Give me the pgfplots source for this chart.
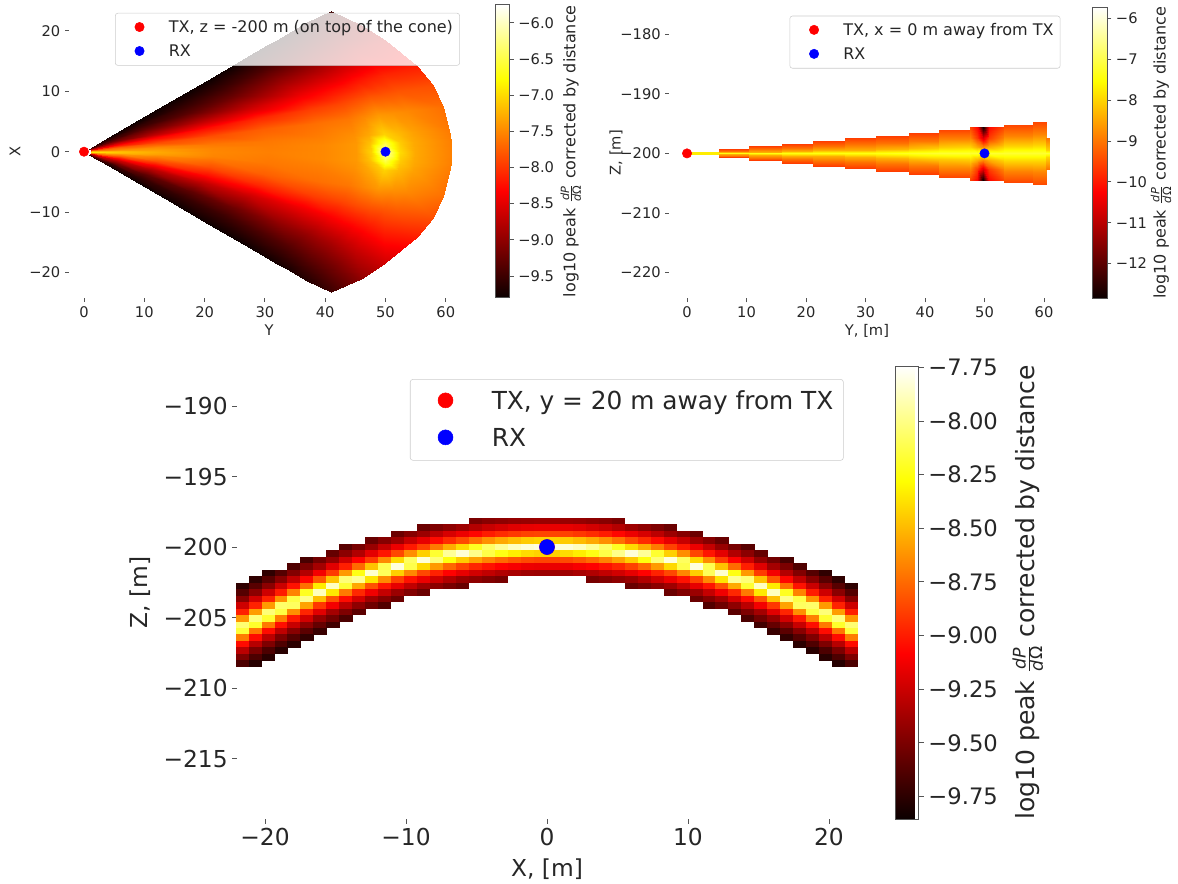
\documentclass[border=0pt]{standalone}
\usepackage{pgfplots}
\pgfplotsset{compat=1.18}
\usepackage{fontspec}
\setmainfont{DejaVu Sans}
\definecolor{txt}{HTML}{262626}
\definecolor{tk}{HTML}{555555}
\newcommand{\dPdO}[1]{$\frac{\mbox{\fontsize{#1}{#1}\selectfont\itshape dP}}{\mbox{\fontsize{#1}{#1}\selectfont\itshape d\textup{Ω}}}$}
\pgfdeclareplotmark{cell}{\pgfpathrectangle{\pgfqpoint{-4.95pt}{-2.5pt}}{\pgfqpoint{9.9pt}{5pt}}\pgfusepathqfill}
\pgfplotsset{
 colormap={hotm}{rgb(0pt)=(0.0416,0,0); rgb(365pt)=(1,0,0); rgb(746pt)=(1,1,0); rgb(1000pt)=(1,1,1)},
 colormap name=hotm,
 base/.style={scale only axis, axis line style={draw=none}, xtick pos=bottom, ytick pos=left, tick align=outside,
   tick style={color=tk,line width=0.6pt}, major tick length=3pt, clip=true,
   legend cell align=left},
 smalllegend/.style={legend style={anchor=north west,fill opacity=0.8,draw opacity=1,text opacity=1,draw=black!20,rounded corners=2pt,
    font=\fontsize{12}{14}\selectfont,text=txt,inner xsep=5pt,inner ysep=1.6pt,row sep=0pt,
    nodes={inner sep=0pt,text height=13pt,text depth=5pt}},
    legend image code/.code={\path (-13pt,0) (21.75pt,0); \draw[##1,mark options={fill opacity=1,draw opacity=1}] plot coordinates {(0,0.2pt)};}},
 biglegend/.style={legend style={anchor=north west,fill opacity=0.8,draw opacity=1,text opacity=1,draw=black!20,rounded corners=2pt,
    font=\fontsize{18.6}{22}\selectfont,text=txt,inner xsep=7.5pt,inner ysep=2.6pt,row sep=0pt,
    nodes={inner sep=0pt,text height=20pt,text depth=7.75pt}},
    legend image code/.code={\path (-18.75pt,0) (34.5pt,0); \draw[##1,mark options={fill opacity=1,draw opacity=1}] plot coordinates {(0,0.75pt)};}},
}
\begin{document}
\begin{tikzpicture}
\path[use as bounding box] (0,0) rectangle (883.5pt,662.25pt);
% ---------------- top left
\begin{axis}[base, smalllegend, at={(51.75pt,438.98pt)}, anchor=south west, width=300pt, height=219.75pt,
  xmin=-2.49, xmax=63.85, ymin=-24.17, ymax=24.34,
  xtick={0,10,20,30,40,50,60}, xticklabels={0,10,20,30,40,50,60}, ytick={-20,-10,0,10,20}, yticklabels={−20,−10,0,10,20},
  ticklabel style={font=\fontsize{11}{13}\selectfont,text=txt},
  xlabel={Y}, ylabel={X},
  every axis x label/.style={at={(axis description cs:0.5,-0.11)},anchor=center,font=\fontsize{11}{13}\selectfont,text=txt},
  every axis y label/.style={at={(axis description cs:-0.135,0.5)},rotate=90,anchor=center,font=\fontsize{11}{13}\selectfont,text=txt},
  point meta min=-9.80, point meta max=-5.75,
  colorbar,
  colorbar style={at={(parent axis.north east)},anchor=north west,xshift=11.1pt,scale only axis,width=10.9pt,height=219.75pt,
    ytick={-9.5,-9,-8.5,-8,-7.5,-7,-6.5,-6}, yticklabels={−9.5,−9.0,−8.5,−8.0,−7.5,−7.0,−6.5,−6.0},
    yticklabel pos=right, ytick pos=right, tick align=outside, major tick length=3pt,
    tick style={color=tk,line width=0.6pt}, axis line style={draw=tk,line width=0.6pt},
    ticklabel style={font=\fontsize{11}{13}\selectfont,text=txt},
    ylabel={log10 peak \dPdO{8.5} corrected by distance},
    every axis y label/.style={at={(axis description cs:5.2,0.5)},rotate=90,anchor=center,font=\fontsize{12}{14}\selectfont,text=txt}},
  legend style={at={(0.115,0.972)}},
]
\addplot[surf,shader=interp,forget plot,mesh/rows=12,mesh/cols=17,mesh/ordering=y varies,point meta=\thisrow{v}] table[x=x,y=y]{
x y v
0.82 -0.48 -9.5
4.1 -2.38 -9.75
8.2 -4.75 -9.78
14.35 -8.32 -9.78
20.5 -11.89 -9.78
26.65 -15.45 -9.78
30.34 -17.6 -9.75
31.98 -18.55 -9.74
33.62 -19.5 -9.72
35.26 -20.45 -9.68
36.9 -21.4 -9.65
41 -23.3 -9.5
0.92 -0.42 -9.2
4.6 -2.1 -9.5
9.2 -4.2 -9.55
16.1 -7.35 -9.55
23 -10.5 -9.5
29.9 -13.65 -9.4
34.04 -15.54 -9.35
35.88 -16.38 -9.3
37.72 -17.22 -9.25
39.56 -18.06 -9.2
41.4 -18.9 -9.15
46 -21 -9.0
1 -0.37 -8.9
5 -1.85 -9.2
10 -3.7 -9.3
17.5 -6.48 -9.3
25 -9.25 -9.2
32.5 -12.03 -9.0
37 -13.69 -8.95
39 -14.43 -8.9
41 -15.17 -8.85
43 -15.91 -8.78
45 -16.65 -8.7
50 -18.5 -8.6
1.1 -0.28 -8.4
5.52 -1.42 -8.65
11.04 -2.84 -8.75
19.32 -4.97 -8.7
27.6 -7.1 -8.6
35.88 -9.23 -8.4
40.85 -10.51 -8.3
43.06 -11.08 -8.25
45.26 -11.64 -8.2
47.47 -12.21 -8.15
49.68 -12.78 -8.1
55.2 -14.2 -8.15
1.16 -0.22 -8.0
5.78 -1.1 -8.2
11.56 -2.2 -8.3
20.23 -3.85 -8.25
28.9 -5.5 -8.1
37.57 -7.15 -7.95
42.77 -8.14 -7.9
45.08 -8.58 -7.85
47.4 -9.02 -7.8
49.71 -9.46 -7.8
52.02 -9.9 -7.8
57.8 -11 -7.85
1.19 -0.15 -7.6
5.95 -0.74 -7.75
11.9 -1.48 -7.85
20.83 -2.59 -7.85
29.75 -3.7 -7.75
38.68 -4.81 -7.65
44.03 -5.48 -7.6
46.41 -5.77 -7.5
48.79 -6.07 -7.4
51.17 -6.36 -7.45
53.55 -6.66 -7.5
59.5 -7.4 -7.65
1.21 -0.07 -7.2
6.06 -0.36 -7.4
12.12 -0.72 -7.5
21.21 -1.26 -7.6
30.3 -1.8 -7.6
39.39 -2.34 -7.55
44.84 -2.66 -7.45
47.27 -2.81 -7.3
49.69 -2.95 -7.05
52.12 -3.1 -7.2
54.54 -3.24 -7.35
60.6 -3.6 -7.58
1.22 -0.04 -7.0
6.09 -0.18 -7.2
12.18 -0.36 -7.35
21.32 -0.63 -7.52
30.45 -0.9 -7.57
39.59 -1.17 -7.5
45.07 -1.33 -7.4
47.5 -1.4 -7.15
49.94 -1.48 -6.5
52.37 -1.55 -7.1
54.81 -1.62 -7.3
60.9 -1.8 -7.55
1.22 0 -6.9
6.1 0 -7.15
12.2 0 -7.3
21.35 0 -7.5
30.5 0 -7.55
39.65 0 -7.5
45.14 0 -7.4
47.58 0 -7.05
50 0 -6.0
52.46 0 -7.0
54.9 0 -7.3
61 0 -7.55
1.22 0.04 -7.0
6.09 0.18 -7.2
12.18 0.36 -7.35
21.32 0.63 -7.52
30.45 0.9 -7.57
39.59 1.17 -7.5
45.07 1.33 -7.4
47.5 1.4 -7.15
49.94 1.48 -6.5
52.37 1.55 -7.1
54.81 1.62 -7.3
60.9 1.8 -7.55
1.21 0.07 -7.2
6.06 0.36 -7.4
12.12 0.72 -7.5
21.21 1.26 -7.6
30.3 1.8 -7.6
39.39 2.34 -7.55
44.84 2.66 -7.45
47.27 2.81 -7.3
49.69 2.95 -7.05
52.12 3.1 -7.2
54.54 3.24 -7.35
60.6 3.6 -7.58
1.19 0.15 -7.6
5.95 0.74 -7.75
11.9 1.48 -7.85
20.83 2.59 -7.85
29.75 3.7 -7.75
38.68 4.81 -7.65
44.03 5.48 -7.6
46.41 5.77 -7.5
48.79 6.07 -7.4
51.17 6.36 -7.45
53.55 6.66 -7.5
59.5 7.4 -7.65
1.16 0.22 -8.0
5.78 1.1 -8.2
11.56 2.2 -8.3
20.23 3.85 -8.25
28.9 5.5 -8.1
37.57 7.15 -7.95
42.77 8.14 -7.9
45.08 8.58 -7.85
47.4 9.02 -7.8
49.71 9.46 -7.8
52.02 9.9 -7.8
57.8 11 -7.85
1.1 0.28 -8.4
5.52 1.42 -8.65
11.04 2.84 -8.75
19.32 4.97 -8.7
27.6 7.1 -8.6
35.88 9.23 -8.4
40.85 10.51 -8.3
43.06 11.08 -8.25
45.26 11.64 -8.2
47.47 12.21 -8.15
49.68 12.78 -8.1
55.2 14.2 -8.15
1 0.37 -8.9
5 1.85 -9.2
10 3.7 -9.3
17.5 6.48 -9.3
25 9.25 -9.2
32.5 12.03 -9.0
37 13.69 -8.95
39 14.43 -8.9
41 15.17 -8.85
43 15.91 -8.78
45 16.65 -8.7
50 18.5 -8.6
0.92 0.42 -9.2
4.6 2.1 -9.5
9.2 4.2 -9.55
16.1 7.35 -9.55
23 10.5 -9.5
29.9 13.65 -9.4
34.04 15.54 -9.35
35.88 16.38 -9.3
37.72 17.22 -9.25
39.56 18.06 -9.2
41.4 18.9 -9.15
46 21 -9.0
0.82 0.48 -9.5
4.1 2.38 -9.75
8.2 4.75 -9.78
14.35 8.32 -9.78
20.5 11.89 -9.78
26.65 15.45 -9.78
30.34 17.6 -9.75
31.98 18.55 -9.74
33.62 19.5 -9.72
35.26 20.45 -9.68
36.9 21.4 -9.65
41 23.3 -9.5
};
\addplot[only marks,mark=*,mark size=3.5pt,color=red,mark options={draw=red,fill=red}] coordinates {(0,0)};
\addlegendentry{TX, z = -200 m (on top of the cone)}
\addplot[only marks,mark=*,mark size=3.5pt,color=blue,mark options={draw=blue,fill=blue}] coordinates {(50,0)};
\addlegendentry{RX}
\end{axis}
% ---------------- top right
\begin{axis}[base, smalllegend, at={(502.05pt,438.53pt)}, anchor=south west, width=296.4pt, height=218.25pt,
  xmin=-2.96, xmax=63.46, ymin=-224.3, ymax=-175.5,
  xtick={0,10,20,30,40,50,60}, xticklabels={0,10,20,30,40,50,60}, ytick={-220,-210,-200,-190,-180}, yticklabels={−220,−210,−200,−190,−180},
  ticklabel style={font=\fontsize{11}{13}\selectfont,text=txt},
  xlabel={Y, [m]}, ylabel={Z, [m]},
  every axis x label/.style={at={(axis description cs:0.5,-0.112)},anchor=center,font=\fontsize{11}{13}\selectfont,text=txt},
  every axis y label/.style={at={(axis description cs:-0.135,0.5)},rotate=90,anchor=center,font=\fontsize{11}{13}\selectfont,text=txt},
  point meta min=-12.85, point meta max=-5.73,
  colorbar,
  colorbar style={at={(parent axis.north east)},anchor=north west,xshift=12.55pt,scale only axis,width=10.9pt,height=218.25pt,
    ytick={-12,-11,-10,-9,-8,-7,-6}, yticklabels={−12,−11,−10,−9,−8,−7,−6},
    yticklabel pos=right, ytick pos=right, tick align=outside, major tick length=3pt,
    tick style={color=tk,line width=0.6pt}, axis line style={draw=tk,line width=0.6pt},
    ticklabel style={font=\fontsize{11}{13}\selectfont,text=txt},
    ylabel={log10 peak \dPdO{8.5} corrected by distance},
    every axis y label/.style={at={(axis description cs:4.7,0.5)},rotate=90,anchor=center,font=\fontsize{12}{14}\selectfont,text=txt}},
  legend style={at={(0.304,0.971)}},
]
\addplot[forget plot,color=yellow!95!orange,line width=2.2pt] coordinates {(0,-200) (5.3,-200)};
\addplot[surf,shader=interp,forget plot,mesh/rows=7,mesh/cols=27,mesh/ordering=y varies,point meta=\thisrow{v}] table[x=x,y=y]{
x y v
5.3 -200.67 -9.6
5.3 -200.4 -9.05
5.3 -200.17 -8.4
5.3 -200 -7.4
5.3 -199.83 -8.4
5.3 -199.6 -9.05
5.3 -199.33 -9.6
10.4 -200.67 -9.6
10.4 -200.4 -9.05
10.4 -200.17 -8.4
10.4 -200 -7.4
10.4 -199.83 -8.4
10.4 -199.6 -9.05
10.4 -199.33 -9.6
10.4 -201.17 -9.6
10.4 -200.7 -9.05
10.4 -200.29 -8.4
10.4 -200 -7.4
10.4 -199.71 -8.4
10.4 -199.3 -9.05
10.4 -198.83 -9.6
16 -201.17 -9.6
16 -200.7 -9.05
16 -200.29 -8.4
16 -200 -7.4
16 -199.71 -8.4
16 -199.3 -9.05
16 -198.83 -9.6
16 -201.6 -9.6
16 -200.96 -9.05
16 -200.4 -8.4
16 -200 -7.4
16 -199.6 -8.4
16 -199.04 -9.05
16 -198.4 -9.6
21.1 -201.6 -9.6
21.1 -200.96 -9.05
21.1 -200.4 -8.4
21.1 -200 -7.4
21.1 -199.6 -8.4
21.1 -199.04 -9.05
21.1 -198.4 -9.6
21.1 -202.05 -9.6
21.1 -201.23 -9.05
21.1 -200.51 -8.4
21.1 -200 -7.4
21.1 -199.49 -8.4
21.1 -198.77 -9.05
21.1 -197.95 -9.6
26.6 -202.05 -9.6
26.6 -201.23 -9.05
26.6 -200.51 -8.4
26.6 -200 -7.4
26.6 -199.49 -8.4
26.6 -198.77 -9.05
26.6 -197.95 -9.6
26.6 -202.5 -9.6
26.6 -201.5 -9.05
26.6 -200.63 -8.4
26.6 -200 -7.4
26.6 -199.37 -8.4
26.6 -198.5 -9.05
26.6 -197.5 -9.6
31.8 -202.5 -9.6
31.8 -201.5 -9.05
31.8 -200.63 -8.4
31.8 -200 -7.4
31.8 -199.37 -8.4
31.8 -198.5 -9.05
31.8 -197.5 -9.6
31.8 -203 -9.6
31.8 -201.8 -9.05
31.8 -200.75 -8.4
31.8 -200 -7.4
31.8 -199.25 -8.4
31.8 -198.2 -9.05
31.8 -197 -9.6
37.3 -203 -9.6
37.3 -201.8 -9.05
37.3 -200.75 -8.3
37.3 -200 -7.3
37.3 -199.25 -8.3
37.3 -198.2 -9.05
37.3 -197 -9.6
37.3 -203.45 -9.6
37.3 -202.07 -9.0
37.3 -200.86 -8.3
37.3 -200 -7.3
37.3 -199.14 -8.3
37.3 -197.93 -9.0
37.3 -196.55 -9.6
42.4 -203.45 -9.6
42.4 -202.07 -9.0
42.4 -200.86 -8.1
42.4 -200 -7.2
42.4 -199.14 -8.1
42.4 -197.93 -9.0
42.4 -196.55 -9.6
42.4 -203.95 -9.5
42.4 -202.37 -8.85
42.4 -200.99 -8.1
42.4 -200 -7.2
42.4 -199.01 -8.1
42.4 -197.63 -8.85
42.4 -196.05 -9.5
47.5 -203.95 -9.5
47.5 -202.37 -8.85
47.5 -200.99 -8.0
47.5 -200 -7.2
47.5 -199.01 -8.0
47.5 -197.63 -8.85
47.5 -196.05 -9.5
47.5 -204.4 -9.5
47.5 -202.64 -8.85
47.5 -201.1 -8.0
47.5 -200 -7.2
47.5 -198.9 -8.0
47.5 -197.36 -8.85
47.5 -195.6 -9.5
48.7 -204.4 -10.2
48.7 -202.64 -9.6
48.7 -201.1 -8.4
48.7 -200 -7.2
48.7 -198.9 -8.4
48.7 -197.36 -9.6
48.7 -195.6 -10.2
49.7 -204.4 -12.8
49.7 -202.64 -10.6
49.7 -201.1 -8.8
49.7 -200 -7.0
49.7 -198.9 -8.8
49.7 -197.36 -10.6
49.7 -195.6 -12.8
50.7 -204.4 -10.2
50.7 -202.64 -9.6
50.7 -201.1 -8.4
50.7 -200 -7.2
50.7 -198.9 -8.4
50.7 -197.36 -9.6
50.7 -195.6 -10.2
53.2 -204.4 -9.5
53.2 -202.64 -8.85
53.2 -201.1 -8.0
53.2 -200 -7.2
53.2 -198.9 -8.0
53.2 -197.36 -8.85
53.2 -195.6 -9.5
53.2 -204.8 -9.5
53.2 -202.88 -8.85
53.2 -201.2 -8.0
53.2 -200 -7.2
53.2 -198.8 -8.0
53.2 -197.12 -8.85
53.2 -195.2 -9.5
58.2 -204.8 -9.5
58.2 -202.88 -8.85
58.2 -201.2 -8.0
58.2 -200 -7.2
58.2 -198.8 -8.0
58.2 -197.12 -8.85
58.2 -195.2 -9.5
58.2 -205.3 -9.5
58.2 -203.18 -8.85
58.2 -201.33 -8.0
58.2 -200 -7.2
58.2 -198.67 -8.0
58.2 -196.82 -8.85
58.2 -194.7 -9.5
60.4 -205.3 -9.5
60.4 -203.18 -8.85
60.4 -201.33 -8.0
60.4 -200 -7.2
60.4 -198.67 -8.0
60.4 -196.82 -8.85
60.4 -194.7 -9.5
60.4 -202.55 -9.0
60.4 -201.53 -8.5
60.4 -200.64 -8.0
60.4 -200 -7.2
60.4 -199.36 -8.0
60.4 -198.47 -8.5
60.4 -197.45 -9.0
61 -202.55 -9.0
61 -201.53 -8.5
61 -200.64 -8.0
61 -200 -7.2
61 -199.36 -8.0
61 -198.47 -8.5
61 -197.45 -9.0
};
\addplot[only marks,mark=*,mark size=3.5pt,color=red,mark options={draw=red,fill=red}] coordinates {(0,-200)};
\addlegendentry{TX, x = 0 m away from TX}
\addplot[only marks,mark=*,mark size=3.5pt,color=blue,mark options={draw=blue,fill=blue}] coordinates {(50,-200)};
\addlegendentry{RX}
\end{axis}
% ---------------- bottom
\begin{axis}[base, biglegend, at={(177.75pt,48pt)}, anchor=south west, width=465pt, height=339.75pt,
  xmin=-21.99, xmax=21.99, ymin=-219.29, ymax=-187.16,
  major tick length=3.5pt,
  xtick={-20,-10,0,10,20}, xticklabels={−20,−10,0,10,20},
  ytick={-215,-210,-205,-200,-195,-190}, yticklabels={−215,−210,−205,−200,−195,−190},
  ticklabel style={font=\fontsize{17.5}{20}\selectfont,text=txt},
  xlabel={X, [m]}, ylabel={Z, [m]},
  every axis x label/.style={at={(axis description cs:0.5,-0.11)},anchor=center,font=\fontsize{17.5}{20}\selectfont,text=txt},
  every axis y label/.style={at={(axis description cs:-0.156,0.5)},rotate=90,anchor=center,font=\fontsize{17.5}{20}\selectfont,text=txt},
  point meta min=-9.855, point meta max=-7.744,
  colorbar,
  colorbar style={at={(parent axis.north east)},anchor=north west,xshift=20.5pt,scale only axis,width=17.25pt,height=339.75pt,
    ytick={-9.75,-9.5,-9.25,-9,-8.75,-8.5,-8.25,-8,-7.75}, yticklabels={−9.75,−9.50,−9.25,−9.00,−8.75,−8.50,−8.25,−8.00,−7.75},
    yticklabel pos=right, ytick pos=right, tick align=outside, major tick length=3.75pt,
    tick style={color=tk,line width=0.6pt}, axis line style={draw=tk,line width=0.6pt},
    ticklabel style={font=\fontsize{17}{20}\selectfont,text=txt},
    ylabel={log10 peak \dPdO{13} corrected by distance},
    every axis y label/.style={at={(axis description cs:5.74,0.5)},rotate=90,anchor=center,font=\fontsize{18.8}{22}\selectfont,text=txt}},
  legend style={at={(0.279,0.971)}},
]
\addplot[scatter,only marks,mark=cell,forget plot,scatter src=explicit,scatter/use mapped color={draw=none,fill=mapped color}] table[x=x,y=y,meta=v]{
x y v
-21.62 -202.76 -9.74
-21.62 -203.22 -9.62
-21.62 -203.68 -9.46
-21.62 -204.14 -9.24
-21.62 -204.6 -8.99
-21.62 -205.06 -8.61
-21.62 -205.52 -8.04
-21.62 -205.98 -8.16
-21.62 -206.44 -8.69
-21.62 -206.9 -9.05
-21.62 -207.36 -9.3
-21.62 -207.82 -9.49
-21.62 -208.28 -9.65
-20.7 -202.3 -9.74
-20.7 -202.76 -9.61
-20.7 -203.22 -9.45
-20.7 -203.68 -9.23
-20.7 -204.14 -8.98
-20.7 -204.6 -8.59
-20.7 -205.06 -8.02
-20.7 -205.52 -8.19
-20.7 -205.98 -8.71
-20.7 -206.44 -9.05
-20.7 -206.9 -9.31
-20.7 -207.36 -9.5
-20.7 -207.82 -9.65
-20.7 -208.28 -9.77
-19.78 -201.84 -9.74
-19.78 -202.3 -9.61
-19.78 -202.76 -9.45
-19.78 -203.22 -9.24
-19.78 -203.68 -8.98
-19.78 -204.14 -8.6
-19.78 -204.6 -8.03
-19.78 -205.06 -8.18
-19.78 -205.52 -8.7
-19.78 -205.98 -9.05
-19.78 -206.44 -9.3
-19.78 -206.9 -9.49
-19.78 -207.36 -9.65
-19.78 -207.82 -9.76
-18.86 -201.84 -9.62
-18.86 -202.3 -9.46
-18.86 -202.76 -9.25
-18.86 -203.22 -9.0
-18.86 -203.68 -8.62
-18.86 -204.14 -8.06
-18.86 -204.6 -8.14
-18.86 -205.06 -8.68
-18.86 -205.52 -9.04
-18.86 -205.98 -9.29
-18.86 -206.44 -9.49
-18.86 -206.9 -9.64
-18.86 -207.36 -9.76
-17.94 -201.38 -9.64
-17.94 -201.84 -9.48
-17.94 -202.3 -9.28
-17.94 -202.76 -9.03
-17.94 -203.22 -8.67
-17.94 -203.68 -8.13
-17.94 -204.14 -8.08
-17.94 -204.6 -8.63
-17.94 -205.06 -9.01
-17.94 -205.52 -9.26
-17.94 -205.98 -9.46
-17.94 -206.44 -9.62
-17.94 -206.9 -9.75
-17.02 -200.92 -9.66
-17.02 -201.38 -9.5
-17.02 -201.84 -9.32
-17.02 -202.3 -9.07
-17.02 -202.76 -8.73
-17.02 -203.22 -8.21
-17.02 -203.68 -7.99
-17.02 -204.14 -8.57
-17.02 -204.6 -8.97
-17.02 -205.06 -9.23
-17.02 -205.52 -9.44
-17.02 -205.98 -9.6
-17.02 -206.44 -9.73
-16.1 -200.92 -9.53
-16.1 -201.38 -9.37
-16.1 -201.84 -9.12
-16.1 -202.3 -8.81
-16.1 -202.76 -8.34
-16.1 -203.22 -7.88
-16.1 -203.68 -8.48
-16.1 -204.14 -8.91
-16.1 -204.6 -9.18
-16.1 -205.06 -9.42
-16.1 -205.52 -9.57
-16.1 -205.98 -9.71
-15.18 -200.46 -9.57
-15.18 -200.92 -9.42
-15.18 -201.38 -9.18
-15.18 -201.84 -8.9
-15.18 -202.3 -8.47
-15.18 -202.76 -7.87
-15.18 -203.22 -8.35
-15.18 -203.68 -8.82
-15.18 -204.14 -9.12
-15.18 -204.6 -9.37
-15.18 -205.06 -9.53
-15.18 -205.52 -9.68
-14.26 -200 -9.61
-14.26 -200.46 -9.45
-14.26 -200.92 -9.24
-14.26 -201.38 -8.99
-14.26 -201.84 -8.6
-14.26 -202.3 -8.03
-14.26 -202.76 -8.17
-14.26 -203.22 -8.7
-14.26 -203.68 -9.05
-14.26 -204.14 -9.3
-14.26 -204.6 -9.49
-14.26 -205.06 -9.65
-13.34 -200 -9.51
-13.34 -200.46 -9.33
-13.34 -200.92 -9.08
-13.34 -201.38 -8.75
-13.34 -201.84 -8.24
-13.34 -202.3 -7.97
-13.34 -202.76 -8.55
-13.34 -203.22 -8.96
-13.34 -203.68 -9.22
-13.34 -204.14 -9.44
-13.34 -204.6 -9.6
-12.42 -199.54 -9.56
-12.42 -200 -9.41
-12.42 -200.46 -9.17
-12.42 -200.92 -8.9
-12.42 -201.38 -8.47
-12.42 -201.84 -7.85
-12.42 -202.3 -8.36
-12.42 -202.76 -8.83
-12.42 -203.22 -9.13
-12.42 -203.68 -9.38
-12.42 -204.14 -9.54
-11.5 -199.54 -9.47
-11.5 -200 -9.27
-11.5 -200.46 -9.02
-11.5 -200.92 -8.65
-11.5 -201.38 -8.11
-11.5 -201.84 -8.09
-11.5 -202.3 -8.65
-11.5 -202.76 -9.02
-11.5 -203.22 -9.27
-11.5 -203.68 -9.47
-11.5 -204.14 -9.63
-10.58 -199.08 -9.55
-10.58 -199.54 -9.39
-10.58 -200 -9.14
-10.58 -200.46 -8.86
-10.58 -200.92 -8.4
-10.58 -201.38 -7.82
-10.58 -201.84 -8.43
-10.58 -202.3 -8.88
-10.58 -202.76 -9.16
-10.58 -203.22 -9.4
-10.58 -203.68 -9.55
-9.66 -199.08 -9.47
-9.66 -199.54 -9.26
-9.66 -200 -9.01
-9.66 -200.46 -8.64
-9.66 -200.92 -8.08
-9.66 -201.38 -8.12
-9.66 -201.84 -8.66
-9.66 -202.3 -9.03
-9.66 -202.76 -9.28
-9.66 -203.22 -9.48
-8.74 -198.62 -9.55
-8.74 -199.08 -9.4
-8.74 -199.54 -9.16
-8.74 -200 -8.88
-8.74 -200.46 -8.43
-8.74 -200.92 -7.82
-8.74 -201.38 -8.4
-8.74 -201.84 -8.86
-8.74 -202.3 -9.14
-8.74 -202.76 -9.39
-8.74 -203.22 -9.55
-7.82 -198.62 -9.49
-7.82 -199.08 -9.3
-7.82 -199.54 -9.05
-7.82 -200 -8.7
-7.82 -200.46 -8.18
-7.82 -200.92 -8.03
-7.82 -201.38 -8.6
-7.82 -201.84 -8.98
-7.82 -202.3 -9.24
-7.82 -202.76 -9.45
-6.9 -198.62 -9.44
-6.9 -199.08 -9.21
-6.9 -199.54 -8.95
-6.9 -200 -8.54
-6.9 -200.46 -7.96
-6.9 -200.92 -8.25
-6.9 -201.38 -8.76
-6.9 -201.84 -9.08
-6.9 -202.3 -9.33
-6.9 -202.76 -9.51
-5.98 -198.62 -9.39
-5.98 -199.08 -9.14
-5.98 -199.54 -8.85
-5.98 -200 -8.39
-5.98 -200.46 -7.83
-5.98 -200.92 -8.44
-5.98 -201.38 -8.88
-5.98 -201.84 -9.16
-5.98 -202.3 -9.41
-5.98 -202.76 -9.56
-5.06 -198.16 -9.5
-5.06 -198.62 -9.32
-5.06 -199.08 -9.07
-5.06 -199.54 -8.73
-5.06 -200 -8.21
-5.06 -200.46 -7.99
-5.06 -200.92 -8.57
-5.06 -201.38 -8.97
-5.06 -201.84 -9.23
-5.06 -202.3 -9.44
-4.14 -198.16 -9.46
-4.14 -198.62 -9.26
-4.14 -199.08 -9.0
-4.14 -199.54 -8.63
-4.14 -200 -8.07
-4.14 -200.46 -8.13
-4.14 -200.92 -8.67
-4.14 -201.38 -9.03
-4.14 -201.84 -9.28
-4.14 -202.3 -9.48
-3.22 -198.16 -9.44
-3.22 -198.62 -9.22
-3.22 -199.08 -8.95
-3.22 -199.54 -8.55
-3.22 -200 -7.97
-3.22 -200.46 -8.24
-3.22 -200.92 -8.75
-3.22 -201.38 -9.08
-3.22 -201.84 -9.33
-3.22 -202.3 -9.51
-2.3 -198.16 -9.42
-2.3 -198.62 -9.18
-2.3 -199.08 -8.91
-2.3 -199.54 -8.49
-2.3 -200 -7.88
-2.3 -200.46 -8.33
-2.3 -200.92 -8.81
-2.3 -201.38 -9.11
-2.3 -201.84 -9.36
-1.38 -198.16 -9.41
-1.38 -198.62 -9.16
-1.38 -199.08 -8.88
-1.38 -199.54 -8.44
-1.38 -200 -7.83
-1.38 -200.46 -8.39
-1.38 -200.92 -8.85
-1.38 -201.38 -9.14
-1.38 -201.84 -9.39
-0.46 -198.16 -9.4
-0.46 -198.62 -9.15
-0.46 -199.08 -8.87
-0.46 -199.54 -8.42
-0.46 -200 -7.8
-0.46 -200.46 -8.42
-0.46 -200.92 -8.87
-0.46 -201.38 -9.15
-0.46 -201.84 -9.4
0.46 -198.16 -9.4
0.46 -198.62 -9.15
0.46 -199.08 -8.87
0.46 -199.54 -8.42
0.46 -200 -7.8
0.46 -200.46 -8.42
0.46 -200.92 -8.87
0.46 -201.38 -9.15
0.46 -201.84 -9.4
1.38 -198.16 -9.41
1.38 -198.62 -9.16
1.38 -199.08 -8.88
1.38 -199.54 -8.44
1.38 -200 -7.83
1.38 -200.46 -8.39
1.38 -200.92 -8.85
1.38 -201.38 -9.14
1.38 -201.84 -9.39
2.3 -198.16 -9.42
2.3 -198.62 -9.18
2.3 -199.08 -8.91
2.3 -199.54 -8.49
2.3 -200 -7.88
2.3 -200.46 -8.33
2.3 -200.92 -8.81
2.3 -201.38 -9.11
2.3 -201.84 -9.36
3.22 -198.16 -9.44
3.22 -198.62 -9.22
3.22 -199.08 -8.95
3.22 -199.54 -8.55
3.22 -200 -7.97
3.22 -200.46 -8.24
3.22 -200.92 -8.75
3.22 -201.38 -9.08
3.22 -201.84 -9.33
3.22 -202.3 -9.51
4.14 -198.16 -9.46
4.14 -198.62 -9.26
4.14 -199.08 -9.0
4.14 -199.54 -8.63
4.14 -200 -8.07
4.14 -200.46 -8.13
4.14 -200.92 -8.67
4.14 -201.38 -9.03
4.14 -201.84 -9.28
4.14 -202.3 -9.48
5.06 -198.16 -9.5
5.06 -198.62 -9.32
5.06 -199.08 -9.07
5.06 -199.54 -8.73
5.06 -200 -8.21
5.06 -200.46 -7.99
5.06 -200.92 -8.57
5.06 -201.38 -8.97
5.06 -201.84 -9.23
5.06 -202.3 -9.44
5.98 -198.62 -9.39
5.98 -199.08 -9.14
5.98 -199.54 -8.85
5.98 -200 -8.39
5.98 -200.46 -7.83
5.98 -200.92 -8.44
5.98 -201.38 -8.88
5.98 -201.84 -9.16
5.98 -202.3 -9.41
5.98 -202.76 -9.56
6.9 -198.62 -9.44
6.9 -199.08 -9.21
6.9 -199.54 -8.95
6.9 -200 -8.54
6.9 -200.46 -7.96
6.9 -200.92 -8.25
6.9 -201.38 -8.76
6.9 -201.84 -9.08
6.9 -202.3 -9.33
6.9 -202.76 -9.51
7.82 -198.62 -9.49
7.82 -199.08 -9.3
7.82 -199.54 -9.05
7.82 -200 -8.7
7.82 -200.46 -8.18
7.82 -200.92 -8.03
7.82 -201.38 -8.6
7.82 -201.84 -8.98
7.82 -202.3 -9.24
7.82 -202.76 -9.45
8.74 -198.62 -9.55
8.74 -199.08 -9.4
8.74 -199.54 -9.16
8.74 -200 -8.88
8.74 -200.46 -8.43
8.74 -200.92 -7.82
8.74 -201.38 -8.4
8.74 -201.84 -8.86
8.74 -202.3 -9.14
8.74 -202.76 -9.39
8.74 -203.22 -9.55
9.66 -199.08 -9.47
9.66 -199.54 -9.26
9.66 -200 -9.01
9.66 -200.46 -8.64
9.66 -200.92 -8.08
9.66 -201.38 -8.12
9.66 -201.84 -8.66
9.66 -202.3 -9.03
9.66 -202.76 -9.28
9.66 -203.22 -9.48
10.58 -199.08 -9.55
10.58 -199.54 -9.39
10.58 -200 -9.14
10.58 -200.46 -8.86
10.58 -200.92 -8.4
10.58 -201.38 -7.82
10.58 -201.84 -8.43
10.58 -202.3 -8.88
10.58 -202.76 -9.16
10.58 -203.22 -9.4
10.58 -203.68 -9.55
11.5 -199.54 -9.47
11.5 -200 -9.27
11.5 -200.46 -9.02
11.5 -200.92 -8.65
11.5 -201.38 -8.11
11.5 -201.84 -8.09
11.5 -202.3 -8.65
11.5 -202.76 -9.02
11.5 -203.22 -9.27
11.5 -203.68 -9.47
11.5 -204.14 -9.63
12.42 -199.54 -9.56
12.42 -200 -9.41
12.42 -200.46 -9.17
12.42 -200.92 -8.9
12.42 -201.38 -8.47
12.42 -201.84 -7.85
12.42 -202.3 -8.36
12.42 -202.76 -8.83
12.42 -203.22 -9.13
12.42 -203.68 -9.38
12.42 -204.14 -9.54
13.34 -200 -9.51
13.34 -200.46 -9.33
13.34 -200.92 -9.08
13.34 -201.38 -8.75
13.34 -201.84 -8.24
13.34 -202.3 -7.97
13.34 -202.76 -8.55
13.34 -203.22 -8.96
13.34 -203.68 -9.22
13.34 -204.14 -9.44
13.34 -204.6 -9.6
14.26 -200 -9.61
14.26 -200.46 -9.45
14.26 -200.92 -9.24
14.26 -201.38 -8.99
14.26 -201.84 -8.6
14.26 -202.3 -8.03
14.26 -202.76 -8.17
14.26 -203.22 -8.7
14.26 -203.68 -9.05
14.26 -204.14 -9.3
14.26 -204.6 -9.49
14.26 -205.06 -9.65
15.18 -200.46 -9.57
15.18 -200.92 -9.42
15.18 -201.38 -9.18
15.18 -201.84 -8.9
15.18 -202.3 -8.47
15.18 -202.76 -7.87
15.18 -203.22 -8.35
15.18 -203.68 -8.82
15.18 -204.14 -9.12
15.18 -204.6 -9.37
15.18 -205.06 -9.53
15.18 -205.52 -9.68
16.1 -200.92 -9.53
16.1 -201.38 -9.37
16.1 -201.84 -9.12
16.1 -202.3 -8.81
16.1 -202.76 -8.34
16.1 -203.22 -7.88
16.1 -203.68 -8.48
16.1 -204.14 -8.91
16.1 -204.6 -9.18
16.1 -205.06 -9.42
16.1 -205.52 -9.57
16.1 -205.98 -9.71
17.02 -200.92 -9.66
17.02 -201.38 -9.5
17.02 -201.84 -9.32
17.02 -202.3 -9.07
17.02 -202.76 -8.73
17.02 -203.22 -8.21
17.02 -203.68 -7.99
17.02 -204.14 -8.57
17.02 -204.6 -8.97
17.02 -205.06 -9.23
17.02 -205.52 -9.44
17.02 -205.98 -9.6
17.02 -206.44 -9.73
17.94 -201.38 -9.64
17.94 -201.84 -9.48
17.94 -202.3 -9.28
17.94 -202.76 -9.03
17.94 -203.22 -8.67
17.94 -203.68 -8.13
17.94 -204.14 -8.08
17.94 -204.6 -8.63
17.94 -205.06 -9.01
17.94 -205.52 -9.26
17.94 -205.98 -9.46
17.94 -206.44 -9.62
17.94 -206.9 -9.75
18.86 -201.84 -9.62
18.86 -202.3 -9.46
18.86 -202.76 -9.25
18.86 -203.22 -9.0
18.86 -203.68 -8.62
18.86 -204.14 -8.06
18.86 -204.6 -8.14
18.86 -205.06 -8.68
18.86 -205.52 -9.04
18.86 -205.98 -9.29
18.86 -206.44 -9.49
18.86 -206.9 -9.64
18.86 -207.36 -9.76
19.78 -201.84 -9.74
19.78 -202.3 -9.61
19.78 -202.76 -9.45
19.78 -203.22 -9.24
19.78 -203.68 -8.98
19.78 -204.14 -8.6
19.78 -204.6 -8.03
19.78 -205.06 -8.18
19.78 -205.52 -8.7
19.78 -205.98 -9.05
19.78 -206.44 -9.3
19.78 -206.9 -9.49
19.78 -207.36 -9.65
19.78 -207.82 -9.76
20.7 -202.3 -9.74
20.7 -202.76 -9.61
20.7 -203.22 -9.45
20.7 -203.68 -9.23
20.7 -204.14 -8.98
20.7 -204.6 -8.59
20.7 -205.06 -8.02
20.7 -205.52 -8.19
20.7 -205.98 -8.71
20.7 -206.44 -9.05
20.7 -206.9 -9.31
20.7 -207.36 -9.5
20.7 -207.82 -9.65
20.7 -208.28 -9.77
21.62 -202.76 -9.74
21.62 -203.22 -9.62
21.62 -203.68 -9.46
21.62 -204.14 -9.24
21.62 -204.6 -8.99
21.62 -205.06 -8.61
21.62 -205.52 -8.04
21.62 -205.98 -8.16
21.62 -206.44 -8.69
21.62 -206.9 -9.05
21.62 -207.36 -9.3
21.62 -207.82 -9.49
21.62 -208.28 -9.65
};
\addplot[only marks,mark=*,mark size=5.6pt,color=red,mark options={draw=red,fill=red}] coordinates {(0,-200)};
\addlegendentry{TX, y = 20 m away from TX}
\addplot[only marks,mark=*,mark size=5.6pt,color=blue,mark options={draw=blue,fill=blue}] coordinates {(0,-200)};
\addlegendentry{RX}
\end{axis}
\end{tikzpicture}
\end{document}
